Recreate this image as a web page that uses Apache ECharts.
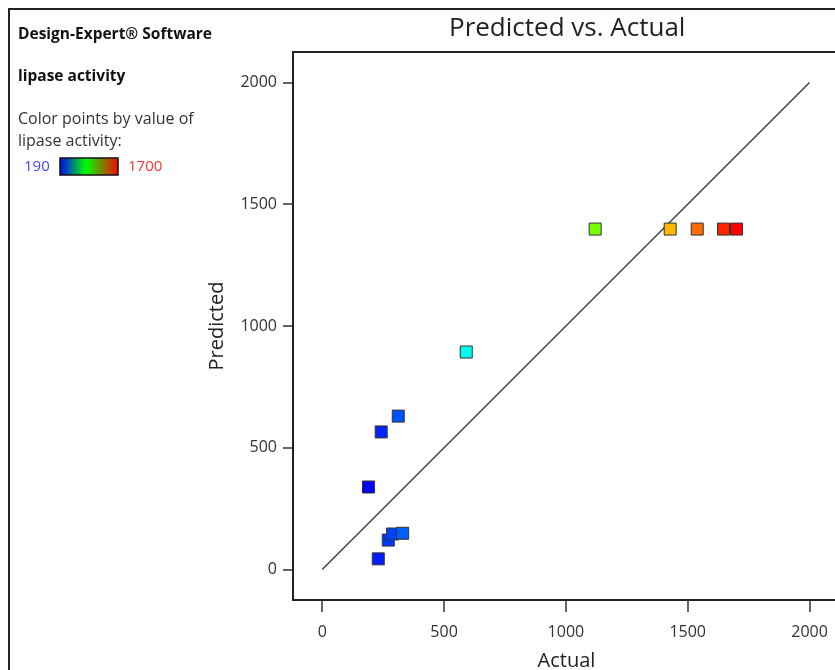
<!DOCTYPE html>
<html>
<head>
<meta charset="utf-8">
<script src="https://cdn.jsdelivr.net/npm/echarts@6/dist/echarts.min.js"></script>
<style>
  html, body { margin: 0; padding: 0; background: #fff; }
  #chart { width: 835px; height: 670px; }
</style>
</head>
<body>
<div id="chart"></div>
<script>
// lipase activity, actual vs predicted
const actual = [1120, 1428, 1539, 1647, 1700, 591, 312, 242, 190, 271, 289, 330, 230]
const predicted = [1398, 1398, 1398, 1398, 1398, 893, 630, 565, 339, 121, 146, 149, 44]
const tickValues = [0, 500, 1000, 1500, 2000]
const diagonal = [[0, 0], [2000, 2000]]
const colorRange = [190, 1700]

const font = '"Open Sans", "Noto Sans", sans-serif'
const chart = echarts.init(document.getElementById('chart'))

const points = actual.map((a, i) => [a, predicted[i]])
const plain = v => String(v)

const option = {
  animation: false,
  backgroundColor: '#fff',
  textStyle: { fontFamily: font },
  title: {
    text: 'Predicted vs. Actual',
    left: 444,
    top: 11,
    textStyle: { fontFamily: font, fontSize: 26, fontWeight: 'normal', color: '#222' }
  },
  grid: {
    left: 293,
    top: 52,
    width: 547,
    height: 548,
    outerBoundsMode: 'none',
    containLabel: false,
    show: true,
    borderColor: '#222',
    borderWidth: 2
  },
  xAxis: {
    type: 'value',
    min: -120,
    max: 2125,
    name: 'Actual',
    nameLocation: 'middle',
    nameGap: 51,
    nameTextStyle: { fontFamily: font, fontSize: 20, color: '#222' },
    axisLine: { show: true, onZero: false, lineStyle: { color: '#222', width: 2 } },
    axisTick: { show: true, customValues: tickValues, length: 12, lineStyle: { color: '#333', width: 1.5 } },
    axisLabel: { customValues: tickValues, formatter: plain, margin: 24, fontSize: 16, color: '#333', fontFamily: font },
    splitLine: { show: false }
  },
  yAxis: {
    type: 'value',
    min: -125,
    max: 2125,
    name: 'Predicted',
    nameLocation: 'middle',
    nameGap: 66,
    nameRotate: 90,
    nameTextStyle: { fontFamily: font, fontSize: 20, color: '#222' },
    axisLine: { show: true, onZero: false, lineStyle: { color: '#222', width: 2 } },
    axisTick: { show: true, customValues: tickValues, length: 10, lineStyle: { color: '#333', width: 1.5 } },
    axisLabel: { customValues: tickValues, formatter: plain, margin: 16, fontSize: 16, color: '#333', fontFamily: font },
    splitLine: { show: false }
  },
  visualMap: {
    show: false,
    type: 'continuous',
    seriesIndex: 1,
    dimension: 0,
    min: colorRange[0],
    max: colorRange[1],
    inRange: { color: ['#0000ff', '#00ffff', '#00ff00', '#ffff00', '#ff0000'] }
  },
  series: [
    {
      type: 'line',
      data: diagonal,
      symbol: 'none',
      lineStyle: { color: '#444', width: 1.5 },
      z: 1
    },
    {
      type: 'scatter',
      data: points,
      symbol: 'rect',
      symbolSize: 12,
      itemStyle: { borderColor: '#333', borderWidth: 1, opacity: 1 },
      z: 3
    }
  ],
  graphic: [
    {
      type: 'rect',
      shape: { x: 9, y: 9, width: 840, height: 680 },
      style: { fill: 'none', stroke: '#222', lineWidth: 2 },
      silent: true
    },
    {
      type: 'text', left: 18, top: 27,
      style: { text: 'Design-Expert® Software', font: 'bold 15.5px ' + font, fill: '#111' }
    },
    {
      type: 'text', left: 18, top: 69,
      style: { text: 'lipase activity', font: 'bold 15.5px ' + font, fill: '#111' }
    },
    {
      type: 'text', left: 18, top: 108,
      style: { text: 'Color points by value of\nlipase activity:', font: '16px ' + font, fill: '#333', lineHeight: 22 }
    },
    {
      type: 'text', left: 24, top: 159,
      style: { text: '190', font: '15px ' + font, fill: '#4444ff' }
    },
    {
      type: 'rect',
      shape: { x: 60, y: 158, width: 58, height: 17 },
      style: {
        fill: new echarts.graphic.LinearGradient(0, 0, 1, 0, [
          { offset: 0, color: '#0000ff' },
          { offset: 0.45, color: '#00ff00' },
          { offset: 1, color: '#ff0000' }
        ]),
        stroke: '#111',
        lineWidth: 1.5
      }
    },
    {
      type: 'text', left: 128, top: 159,
      style: { text: '1700', font: '15px ' + font, fill: '#ff3333' }
    }
  ]
}

chart.setOption(option)
</script>
</body>
</html>
